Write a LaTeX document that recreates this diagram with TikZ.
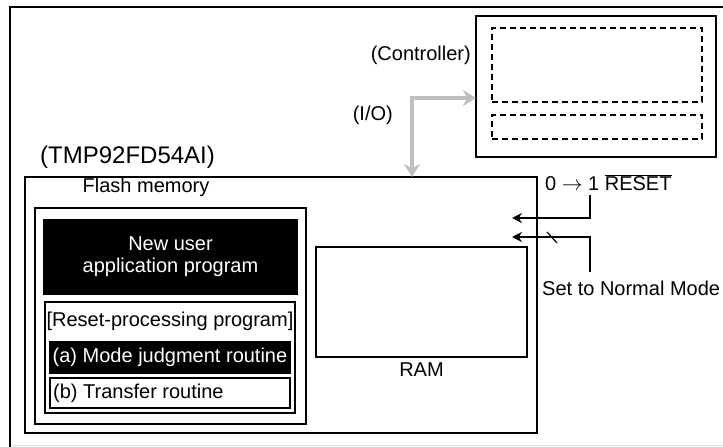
\documentclass[tikz,border=0pt]{standalone}
\usepackage{fontspec}
\setmainfont{Liberation Sans}
\usetikzlibrary{arrows.meta}
\usetikzlibrary{positioning}

\begin{document}
\begin{tikzpicture}[x=1pt,y=-1pt,
  box/.style={draw,line width=1.5pt,inner sep=0pt,outer sep=0pt,font=\fontsize{20}{22}\selectfont},
  thick box/.style={box,line width=2pt},
  dash box/.style={box,line width=1.2pt,dash pattern=on 6pt off 4pt},
  dark box/.style={box,fill=black,text=white},
  txt/.style={inner sep=0pt,font=\fontsize{20}{22}\selectfont},
  io/.style={line width=4pt,color=gray!50,{Stealth[length=13pt,width=16pt]}-{Stealth[length=13pt,width=16pt]}},
  sig/.style={line width=1.5pt,-{Stealth[length=10pt,width=10pt]}}]
\useasboundingbox (0,0) rectangle (723,447);
\draw [line width=2pt] (723,7) -- (10,7) -- (10,447);
\draw [gray!25] (11,445) -- (723,445);

\node [thick box,minimum width=240pt,minimum height=141pt] (ctrl) at (596,86.5) {};
\node [dash box,minimum width=210pt,minimum height=74pt] (ctrltop) at (597,65) {};
\node [dash box,minimum width=210pt,minimum height=24pt] (ctrlbot) at (597,127) {};
\node [txt,anchor=east] (ctrllbl) at (471,55) {(Controller)};

\node [box,line width=1.2pt,minimum width=512pt,minimum height=256pt] (chip) at (281,305) {};
\node [txt,anchor=west,font=\fontsize{24}{28}\selectfont] (chiplbl) at (40,157) {(TMP92FD54AI)};
\node [txt] (flashlbl) at (146,187) {Flash memory};
\node [thick box,minimum width=271pt,minimum height=216pt] (flash) at (170.5,316) {};
\node [dark box,minimum width=253pt,minimum height=74pt,align=center] (app) at (170.5,257) {New user\\application program};
\node [box,line width=1.2pt,minimum width=250pt,minimum height=111pt] (rst) at (170,357.5) {};
\node [txt] (rstlbl) at (170,321) {[Reset-processing program]};
\node [dark box,minimum width=240pt,minimum height=31pt] (modej) at (170,357.5) {(a) Mode judgment routine};
\node [box,minimum width=240pt,minimum height=30pt] (xfer) at (170,393) {};
\node [txt,anchor=west] (xferlbl) at ([xshift=3pt]xfer.west) {(b) Transfer routine};

\node [box,minimum width=211pt,minimum height=110pt] (ram) at (421.5,302) {};
\node [txt,below=6pt of ram] (ramlbl) {RAM};

\coordinate (iobend) at (412,98);
\node [txt,anchor=east] (iolbl) at (393,115) {(I/O)};
\draw [io] (iobend |- chip.north) -- (iobend) -- (iobend -| ctrl.west);

\node [txt,anchor=west] (resetlbl) at (545,183) {0 $\rightarrow$ 1 $\overline{\mbox{RESET}}$};
\coordinate (resetbend) at (590,218);
\coordinate (resettip) at (512,218);
\draw [sig,shorten <=4pt] (resetbend |- resetlbl.south) -- (resetbend) -- (resettip);

\node [txt,anchor=west] (normallbl) at (542,288) {Set to Normal Mode};
\coordinate (normalbend) at (590,237);
\coordinate (normaltip) at (512,237);
\draw [sig,shorten <=8pt] (normalbend |- normallbl.north) -- (normalbend) -- (normaltip);
\draw [line width=1.2pt] (547,232) -- (557,243);
\end{tikzpicture}
\end{document}
